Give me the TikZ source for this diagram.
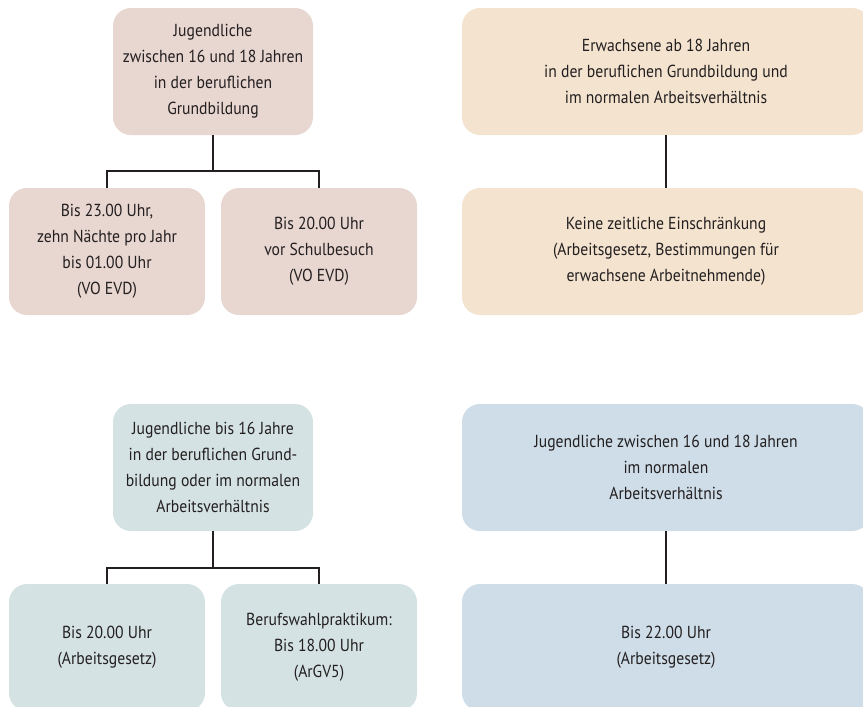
\documentclass[tikz,border=0pt]{standalone}
\usepackage{fontspec}
\setmainfont{PT Sans}[FakeStretch=0.9]
\usetikzlibrary{positioning}
\definecolor{rosa}{RGB}{232,214,208}
\definecolor{sand}{RGB}{243,227,207}
\definecolor{mint}{RGB}{212,226,227}
\definecolor{hellblau}{RGB}{206,221,232}
\definecolor{strich}{RGB}{35,31,32}
\tikzset{
  >=latex,
  kasten/.style={rounded corners=9pt,inner sep=0pt,align=center,
    minimum height=63.5pt,font=\fontsize{8.7}{13}\selectfont,text=strich},
  schmal/.style={kasten,minimum width=98pt},
  mittel/.style={kasten,minimum width=100pt},
  breit/.style={kasten,minimum width=204pt},
  linie/.style={strich,line width=1.4pt}
}

\begin{document}
\begin{tikzpicture}[x=0.5pt,y=-0.5pt]
  \useasboundingbox (0,0) rectangle (863,707);
  % oben links
  \node[mittel,fill=rosa] (jug) at (213,71.5)
    {Jugendliche\\zwischen 16 und 18 Jahren\\in der beruflichen\\Grundbildung};
  \node[schmal,fill=rosa] (evd) at (107,251.5)
    {Bis 23.00 Uhr,\\zehn Nächte pro Jahr\\bis 01.00 Uhr\\(VO EVD)};
  \node[schmal,fill=rosa] (schule) at (319,251.5)
    {Bis 20.00 Uhr\\vor Schulbesuch\\(VO EVD)};
  \coordinate (jugK) at (213,171);
  \draw[linie] (jug.south) -- (jugK);
  \draw[linie] (evd.north) |- (jugK) -| (schule.north);
  % oben rechts
  \node[breit,fill=sand] (erw) at (666,71.5)
    {Erwachsene ab 18 Jahren\\in der beruflichen Grundbildung und\\im normalen Arbeitsverhältnis};
  \node[breit,fill=sand] (keine) at (666,251.5)
    {Keine zeitliche Einschränkung\\(Arbeitsgesetz, Bestimmungen für\\erwachsene Arbeitnehmende)};
  \draw[linie] (erw) -- (keine);
  % unten links
  \node[mittel,fill=mint] (jung) at (213,467.5)
    {Jugendliche bis 16 Jahre\\in der beruflichen Grund-\\bildung oder im normalen\\Arbeitsverhältnis};
  \node[schmal,fill=mint] (argz) at (107,647.5)
    {Bis 20.00 Uhr\\(Arbeitsgesetz)};
  \node[schmal,fill=mint] (praktikum) at (319,647.5)
    {Berufswahlpraktikum:\\Bis 18.00 Uhr\\(ArGV5)};
  \coordinate (jungK) at (213,568);
  \draw[linie] (jung.south) -- (jungK);
  \draw[linie] (argz.north) |- (jungK) -| (praktikum.north);
  % unten rechts
  \node[breit,fill=hellblau] (normal) at (666,467.5)
    {Jugendliche zwischen 16 und 18 Jahren\\im normalen\\Arbeitsverhältnis};
  \node[breit,fill=hellblau] (zwoelf) at (666,647.5)
    {Bis 22.00 Uhr\\(Arbeitsgesetz)};
  \draw[linie] (normal) -- (zwoelf);
\end{tikzpicture}
\end{document}
